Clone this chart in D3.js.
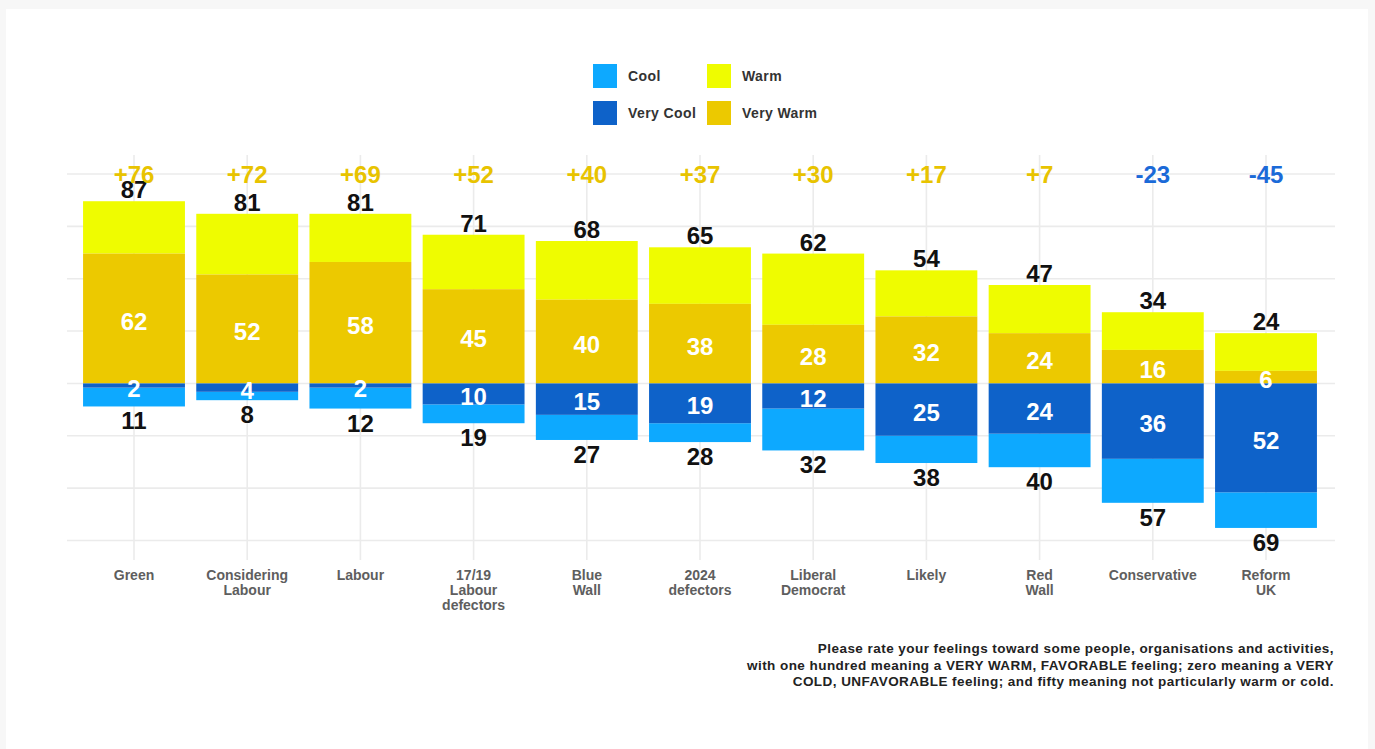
<!DOCTYPE html>
<html>
<head>
<meta charset="utf-8">
<script src="https://cdn.jsdelivr.net/npm/d3@7"></script>
<style>
  html, body { margin: 0; padding: 0; background: #f7f7f7; }
  svg { display: block; }
  text { font-family: "Liberation Sans", Arial, sans-serif; }
</style>
</head>
<body>
<svg id="chart" width="1375" height="749"></svg>
<script>
const categories = ["Green", "Considering Labour", "Labour", "17/19 Labour defectors", "Blue Wall", "2024 defectors", "Liberal Democrat", "Likely", "Red Wall", "Conservative", "Reform UK"];
const categoryLines = [["Green"], ["Considering", "Labour"], ["Labour"], ["17/19", "Labour", "defectors"], ["Blue", "Wall"], ["2024", "defectors"], ["Liberal", "Democrat"], ["Likely"], ["Red", "Wall"], ["Conservative"], ["Reform", "UK"]];
const warmTotal = [87, 81, 81, 71, 68, 65, 62, 54, 47, 34, 24];
const veryWarm = [62, 52, 58, 45, 40, 38, 28, 32, 24, 16, 6];
const veryCool = [2, 4, 2, 10, 15, 19, 12, 25, 24, 36, 52];
const coolTotal = [11, 8, 12, 19, 27, 28, 32, 38, 40, 57, 69];
const netLabels = ["+76", "+72", "+69", "+52", "+40", "+37", "+30", "+17", "+7", "-23", "-45"];
const yTicks = [-75, -50, -25, 0, 25, 50, 75, 100];
const legendItems = [
  { key: "Cool", color: "#0da9ff" },
  { key: "Very Cool", color: "#0e62c9" },
  { key: "Warm", color: "#effc00" },
  { key: "Very Warm", color: "#ecc900" }
];
const footnote = [
  "Please rate your feelings toward some people, organisations and activities,",
  "with one hundred meaning a VERY WARM, FAVORABLE feeling; zero meaning a VERY",
  "COLD, UNFAVORABLE feeling; and fifty meaning not particularly warm or cold."
];

const colors = {};
legendItems.forEach(d => colors[d.key] = d.color);

const svg = d3.select("#chart");
// white card
svg.append("rect").attr("x", 6).attr("y", 9).attr("width", 1362).attr("height", 740).attr("fill", "#ffffff");

const x = d3.scaleBand().domain(categories).range([77.4, 1322.6]).paddingInner(0.1).paddingOuter(0.05);
const y = d3.scaleLinear().domain([-75, 100]).range([540.5, 174]);

const data = categories.map((c, i) => ({
  cat: c, lines: categoryLines[i], warm: warmTotal[i], vw: veryWarm[i], vc: veryCool[i], cool: coolTotal[i], net: netLabels[i]
}));

// gridlines
const grid = svg.append("g");
grid.selectAll("line.h").data(yTicks).join("line")
  .attr("x1", 67).attr("x2", 1335)
  .attr("y1", d => y(d)).attr("y2", d => y(d))
  .attr("stroke", "#ebebeb").attr("stroke-width", 1.6);
grid.selectAll("line.v").data(categories).join("line")
  .attr("x1", d => x(d) + x.bandwidth() / 2).attr("x2", d => x(d) + x.bandwidth() / 2)
  .attr("y1", 155).attr("y2", 560)
  .attr("stroke", "#ebebeb").attr("stroke-width", 1.6);

// bars
const segs = [];
data.forEach(d => {
  segs.push({ cat: d.cat, y0: d.vw, y1: d.warm, key: "Warm" });
  segs.push({ cat: d.cat, y0: 0, y1: d.vw, key: "Very Warm" });
  segs.push({ cat: d.cat, y0: -d.vc, y1: -d.cool, key: "Cool" });
  segs.push({ cat: d.cat, y0: 0, y1: -d.vc, key: "Very Cool" });
});
svg.append("g").selectAll("rect").data(segs).join("rect")
  .attr("x", d => x(d.cat))
  .attr("width", x.bandwidth())
  .attr("y", d => Math.min(y(d.y0), y(d.y1)))
  .attr("height", d => Math.abs(y(d.y0) - y(d.y1)))
  .attr("fill", d => colors[d.key]);

const cx = d => x(d.cat) + x.bandwidth() / 2;
const labels = svg.append("g").attr("font-weight", "bold").attr("font-size", 24).attr("text-anchor", "middle");

// inside labels
labels.selectAll("text.vw").data(data).join("text")
  .attr("x", cx).attr("y", d => y(d.vw / 2) + 11)
  .attr("fill", "#ffffff").text(d => d.vw);
labels.selectAll("text.vc").data(data).join("text")
  .attr("x", cx).attr("y", d => y(-d.vc / 2) + 11)
  .attr("fill", "#ffffff").text(d => d.vc);
// totals
labels.selectAll("text.wt").data(data).join("text")
  .attr("x", cx).attr("y", d => y(d.warm) - 3)
  .attr("fill", "#111111").text(d => d.warm);
labels.selectAll("text.ct").data(data).join("text")
  .attr("x", cx).attr("y", d => y(-d.cool) + 23)
  .attr("fill", "#111111").text(d => d.cool);
// net
labels.selectAll("text.net").data(data).join("text")
  .attr("x", cx).attr("y", 183)
  .attr("fill", d => d.net.startsWith("-") ? "#1b6ad8" : "#e8c300").text(d => d.net);

// x-axis labels
const xl = svg.append("g").attr("font-size", 14).attr("font-weight", "bold").attr("fill", "#5e5e5e").attr("text-anchor", "middle");
data.forEach(d => {
  d.lines.forEach((ln, j) => {
    xl.append("text").attr("x", cx(d)).attr("y", 580 + j * 15).text(ln);
  });
});

// legend
const legendPos = [[593, 64], [593, 101], [707, 64], [707, 101]];
const lg = svg.append("g");
legendItems.forEach((d, i) => {
  const [lx, ly] = legendPos[i];
  lg.append("rect").attr("x", lx).attr("y", ly).attr("width", 24).attr("height", 24).attr("fill", d.color);
  lg.append("text").attr("x", lx + 35).attr("y", ly + 17).attr("font-size", 14).attr("letter-spacing", 0.4)
    .attr("font-weight", "bold").attr("fill", "#333333").text(d.key);
});

// footnote
const fn = svg.append("g").attr("font-size", 13.5).attr("letter-spacing", 0.45).attr("font-weight", "bold").attr("fill", "#222222").attr("text-anchor", "end");
footnote.forEach((t, i) => {
  fn.append("text").attr("x", 1334).attr("y", 653 + i * 16.5).text(t);
});
</script>
</body>
</html>
